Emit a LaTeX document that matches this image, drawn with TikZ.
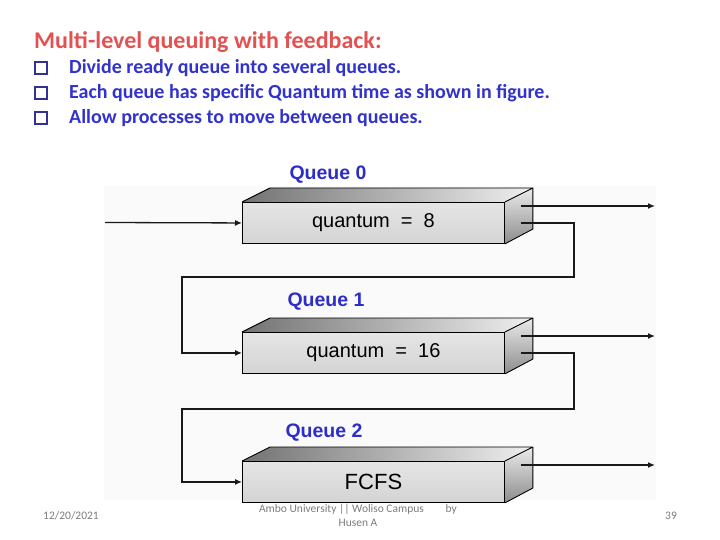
\documentclass[tikz,border=0pt]{standalone}
\usepackage{fontspec}
\setmainfont{Carlito}
\newfontfamily\arialf{Liberation Sans}
\usetikzlibrary{arrows.meta,calc}
\definecolor{titlered}{RGB}{226,82,82}
\definecolor{bulletblue}{RGB}{50,50,205}
\definecolor{qblue}{RGB}{45,45,200}
\definecolor{sqblue}{RGB}{50,50,150}
\definecolor{footgray}{RGB}{125,125,125}
\begin{document}
\begin{tikzpicture}[x=1pt,y=-1pt,
  front/.style={draw=black, line width=0.9pt, minimum width=262pt, minimum height=41pt,
    inner sep=0pt, anchor=north west, top color=black!10, bottom color=black!17,
    font=\arialf\fontsize{20}{20}\selectfont},
  qlabel/.style={font=\arialf\bfseries\fontsize{19.5}{19.5}\selectfont, text=qblue},
  flow/.style={line width=1.3pt, draw=black!90},
  arr/.style={flow, -{Latex[length=7pt,width=6pt]}},
  bsq/.style={draw=sqblue, line width=1.6pt, minimum size=11.5pt, inner sep=0pt},
  btext/.style={anchor=west, text=bulletblue, font=\bfseries\fontsize{20}{20}\selectfont, inner sep=0pt},
  foot/.style={text=footgray, font=\fontsize{11.5}{14}\selectfont},
  outline/.style={draw=black, line width=0.9pt, line join=round}
]
\useasboundingbox (0,0) rectangle (720,540);
\fill[white] (0,0) rectangle (720,540);
% pasted figure background
\fill[black!2] (104,186) rectangle (656,500);

% title and bullets
\node[anchor=west, text=titlered, font=\bfseries\fontsize{24}{24}\selectfont, inner sep=0pt] (title) at (34,42) {Multi-level queuing with feedback:};
\node[bsq] (s1) at (41,68) {};
\node[bsq] (s2) at (41,93) {};
\node[bsq] (s3) at (41,118) {};
\node[btext] (t1) at (69,68) {Divide ready queue into several queues.};
\node[btext] (t2) at (69,93) {Each queue has specific Quantum time as shown in figure.};
\node[btext] (t3) at (69,118) {Allow processes to move between queues.};

% queues
\foreach \n/\y/\txt in {0/202/{quantum\ \ =\ \ 8}, 1/332/{quantum\ \ =\ \ 16}, 2/461/{\fontsize{22}{22}\selectfont FCFS}}{
  \node[front] (q\n) at (242,\y) {\txt};
  \shade[left color=black!55, right color=black!6]
     (q\n.north west) -- ++(28,-14) -- ($(q\n.north east)+(28,-14)$) -- (q\n.north east) -- cycle;
  \shade[top color=black!8, bottom color=black!45]
     (q\n.north east) -- ++(28,-14) -- ++(0,41) -- (q\n.south east) -- cycle;
  \draw[outline] (q\n.north west) -- ++(28,-14) -- ($(q\n.north east)+(28,-14)$) -- (q\n.north east);
  \draw[outline] ($(q\n.north east)+(28,-14)$) -- ++(0,41) -- (q\n.south east);
  \draw[outline] (q\n.north west) rectangle (q\n.south east);
  \coordinate (o\n) at ($(q\n.north east)+(16,4)$);
  \coordinate (oe\n) at (655,{\y+4});
  \draw[arr] (o\n) -- (oe\n);
}
\node[qlabel] (l0) at (328,175) {Queue 0};
\node[qlabel] (l1) at (326,302) {Queue 1};
\node[qlabel] (l2) at (324,433) {Queue 2};

% input
\coordinate (in) at (105,222.5);
\draw[arr] (in) -- (q0.west);

% feedback paths
\coordinate (f0) at ($(q0.east)+(16,0)$);
\coordinate (r0) at (574,277);
\coordinate (k0) at (182,277);
\draw[arr] (f0) -| (r0) -- (k0) |- (q1.west);
\coordinate (f1) at ($(q1.east)+(16,0)$);
\coordinate (r1) at (574,409);
\coordinate (k1) at (182,409);
\draw[arr] (f1) -| (r1) -- (k1) |- (q2.west);

% footer
\node[foot] (date) at (71,516) {12/20/2021};
\node[foot, align=center] (src) at (358,515) {Ambo University || Woliso Campus\hspace{1.9em}by\\Husen A};
\node[foot] (page) at (671,516) {39};
\end{tikzpicture}
\end{document}
